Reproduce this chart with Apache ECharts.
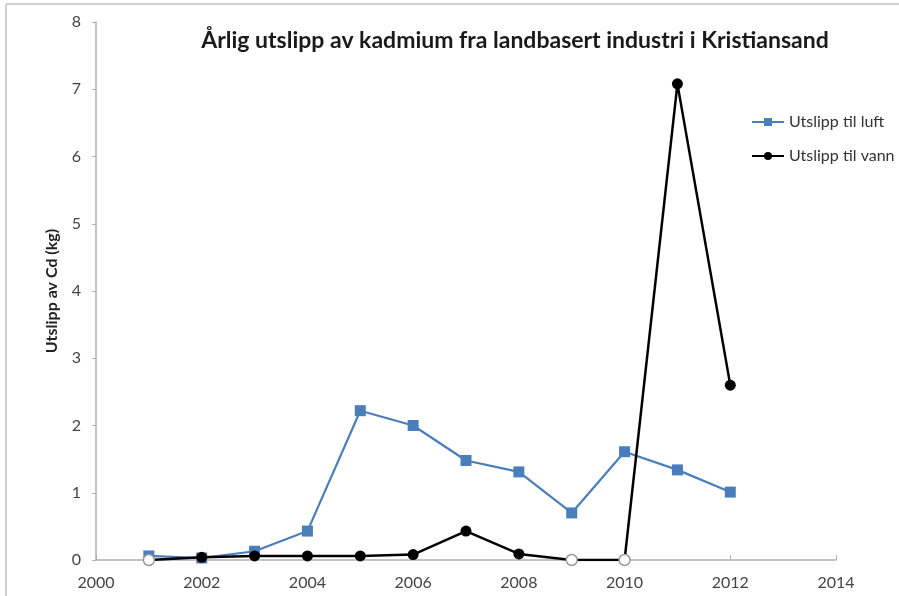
<!DOCTYPE html>
<html>
<head>
<meta charset="utf-8">
<script src="https://cdn.jsdelivr.net/npm/echarts@6/dist/echarts.min.js"></script>
<style>
  html, body { margin: 0; padding: 0; background: #fff; }
  #chart { width: 899px; height: 596px; }
</style>
</head>
<body>
<div id="chart"></div>
<script>
// Annual cadmium emissions (kg), Kristiansand
const years = [2001, 2002, 2003, 2004, 2005, 2006, 2007, 2008, 2009, 2010, 2011, 2012];
const luft = [0.06, 0.03, 0.13, 0.43, 2.22, 2.0, 1.48, 1.31, 0.70, 1.61, 1.34, 1.01];
const vann = [0, 0.04, 0.06, 0.06, 0.06, 0.08, 0.43, 0.09, 0, 0, 7.08, 2.6];
const xTicks = [2000, 2002, 2004, 2006, 2008, 2010, 2012, 2014];
const yTicks = [0, 1, 2, 3, 4, 5, 6, 7, 8];

const fontFamily = 'Lato, "Open Sans", sans-serif';

const luftData = years.map((y, i) => [y, luft[i]]);
// zero-valued water points are drawn as hollow grey markers
const vannData = years.map((y, i) => {
  const v = vann[i];
  if (v === 0) {
    return { value: [y, v], itemStyle: { color: '#fff', borderColor: '#9a9a9a', borderWidth: 1.5 } };
  }
  return [y, v];
});

const chart = echarts.init(document.getElementById('chart'));
chart.setOption({
  animation: false,
  backgroundColor: '#fff',
  title: {
    text: 'Årlig utslipp av kadmium fra landbasert industri i Kristiansand',
    left: 510, top: 24, textAlign: 'center',
    textStyle: { fontFamily, fontWeight: 'bold', fontSize: 23, color: '#1a1a1a' }
  },
  legend: {
    orient: 'vertical',
    left: 746, top: 109,
    itemWidth: 32, itemHeight: 10, itemGap: 18,
    textStyle: { fontFamily, fontSize: 16, color: '#333' },
    data: ['Utslipp til luft', 'Utslipp til vann']
  },
  grid: { left: 96, right: 63, top: 22, bottom: 36 },
  xAxis: {
    type: 'value', min: 2000, max: 2014, interval: 2,
    axisLine: { lineStyle: { color: '#b0b0b0', width: 1.5 } },
    axisTick: { show: true, inside: true, length: 5, lineStyle: { color: '#b0b0b0' } },
    axisLabel: { color: '#444', fontFamily, fontSize: 16, margin: 15,
      formatter: v => xTicks.includes(v) ? String(v) : '' },
    splitLine: { show: false }
  },
  yAxis: {
    type: 'value', min: 0, max: 8, interval: 1,
    name: 'Utslipp av Cd (kg)',
    nameLocation: 'middle', nameGap: 36, nameRotate: 90,
    nameTextStyle: { fontFamily, fontWeight: 'bold', fontSize: 16, color: '#222' },
    axisLine: { show: true, lineStyle: { color: '#b0b0b0', width: 1.5 } },
    axisTick: { show: true, length: 4, lineStyle: { color: '#b0b0b0' } },
    axisLabel: { color: '#444', fontFamily, fontSize: 16, margin: 15,
      formatter: v => yTicks.includes(v) ? String(v) : '' },
    splitLine: { show: false }
  },
  series: [
    {
      name: 'Utslipp til luft', type: 'line', data: luftData,
      symbol: 'rect', symbolSize: 11,
      lineStyle: { color: '#4a7ebb', width: 2.2 },
      itemStyle: { color: '#4a7ebb' },
      z: 2
    },
    {
      name: 'Utslipp til vann', type: 'line', data: vannData,
      symbol: 'circle', symbolSize: 11,
      lineStyle: { color: '#000', width: 2.5 },
      itemStyle: { color: '#000' },
      z: 3
    }
  ],
  graphic: [
    { type: 'line', shape: { x1: 6, y1: 4, x2: 899, y2: 4 }, style: { stroke: '#cfcfcf', lineWidth: 2 } },
    { type: 'line', shape: { x1: 6, y1: 4, x2: 6, y2: 596 }, style: { stroke: '#cfcfcf', lineWidth: 2 } }
  ]
});
</script>
</body>
</html>
